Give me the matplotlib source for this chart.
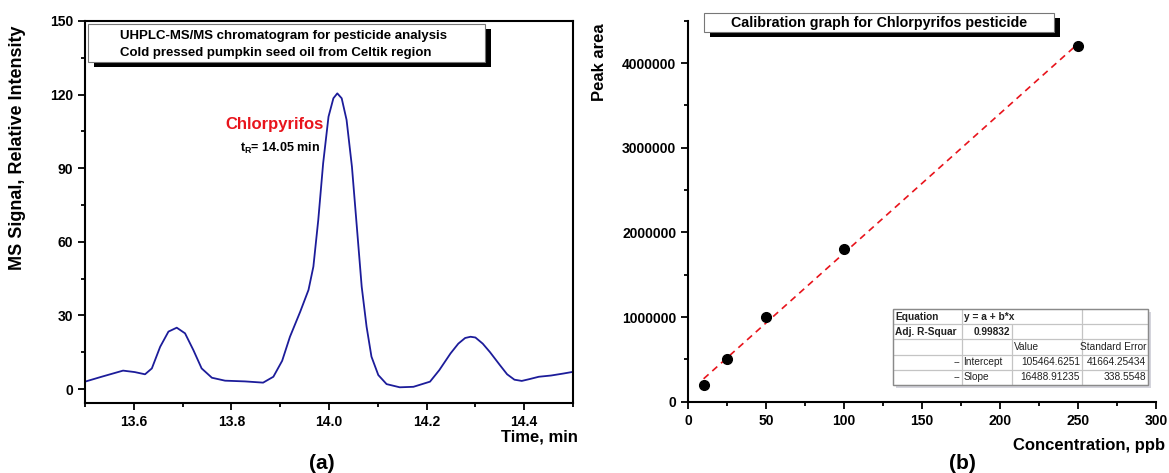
import numpy as np
import matplotlib
matplotlib.use("Agg")
import matplotlib.pyplot as plt
from matplotlib.patches import Rectangle
from matplotlib.ticker import MultipleLocator

plt.rcParams['font.family'] = ['Liberation Sans', 'DejaVu Sans']
plt.rcParams['mathtext.fontset'] = 'custom'
plt.rcParams['mathtext.rm'] = 'Liberation Sans'
plt.rcParams['mathtext.bf'] = 'Liberation Sans:bold'

# chromatogram (a)
time_min = [13.500, 13.534, 13.578, 13.602, 13.623, 13.637, 13.654, 13.671,
            13.688, 13.705, 13.722, 13.739, 13.760, 13.787, 13.828, 13.865,
            13.886, 13.904, 13.920, 13.941, 13.958, 13.968, 13.978, 13.988,
            13.999, 14.009, 14.017, 14.026, 14.036, 14.047, 14.057, 14.067,
            14.077, 14.087, 14.101, 14.118, 14.145, 14.173, 14.207, 14.226,
            14.249, 14.265, 14.279, 14.290, 14.300, 14.315, 14.330, 14.350,
            14.365, 14.380, 14.395, 14.410, 14.430, 14.455, 14.480, 14.500]
intensity = [3.0, 5.0, 7.5, 6.9, 6.0, 8.4, 17.2, 23.4,
             25.0, 22.7, 15.9, 8.4, 4.6, 3.4, 3.1, 2.6,
             5.0, 11.5, 21.3, 31.5, 40.4, 49.9, 68.9, 92.0,
             111.0, 118.5, 120.5, 118.5, 109.7, 90.6, 66.2, 41.7,
             25.4, 13.2, 5.7, 2.0, 0.7, 0.9, 3.0, 7.7,
             14.5, 18.5, 20.8, 21.3, 21.0, 18.5, 15.0, 9.8,
             6.0, 3.8, 3.3, 4.0, 5.0, 5.5, 6.3, 7.0]

# calibration (b)
conc_ppb = [10, 25, 50, 100, 250]
peak_area = [200000, 500000, 1000000, 1800000, 4200000]
intercept = 105464.6251
slope = 16488.91235

fit_rows = [
    ["Equation", "y = a + b*x", "", ""],
    ["Adj. R-Squar", "0.99832", "", ""],
    ["", "", "Value", "Standard Error"],
    ["--", "Intercept", "105464.6251", "41664.25434"],
    ["--", "Slope", "16488.91235", "338.5548"],
]

W, H = 1169, 473
fig = plt.figure(figsize=(W / 100, H / 100), dpi=100)


def box(x0, y0, x1, y1):
    # pixel box (top-left origin) -> figure fraction rect
    return [x0 / W, 1 - y1 / H, (x1 - x0) / W, (y1 - y0) / H]


def style(ax):
    for s in ax.spines.values():
        s.set_linewidth(1.5)
    ax.tick_params(which='both', direction='out', width=1.3)
    ax.tick_params(which='major', length=5, labelsize=10)
    ax.tick_params(which='minor', length=3)
    for lab in ax.get_xticklabels() + ax.get_yticklabels():
        lab.set_fontweight('bold')


# ---- (a)
ax1 = fig.add_axes(box(85, 21, 573, 403))
ax1.plot(time_min, intensity, color='#1c1c9a', lw=1.3)
ax1.set_xlim(13.5, 14.5)
ax1.set_ylim(-5.7, 150)
ax1.xaxis.set_minor_locator(MultipleLocator(0.1))
ax1.yaxis.set_major_locator(MultipleLocator(30))
ax1.yaxis.set_minor_locator(MultipleLocator(15))
ax1.set_xticks([13.6, 13.8, 14.0, 14.2, 14.4])
ax1.set_xticklabels(['13.6', '13.8', '14.0', '14.2', '14.4'])
style(ax1)
ax1.text(13.889, 108, 'Chlorpyrifos', color='#e8141c', fontsize=12,
         fontweight='bold', ha='center', va='center')
ax1.text(13.90, 98, r'$\mathbf{t}_{\mathbf{R}}$= 14.05 min', fontsize=9,
         fontweight='bold', ha='center', va='center')

# ---- (b)
ax2 = fig.add_axes(box(688, 20.7, 1156, 401.7))
xfit = np.array([conc_ppb[0], conc_ppb[-1]])
ax2.plot(xfit, intercept + slope * xfit, color='#e8141c', lw=1.2,
         ls=(0, (4, 3)), zorder=2)
ax2.plot(conc_ppb, peak_area, 'o', color='black', ms=7, zorder=3)
ax2.set_xlim(0, 300)
ax2.set_ylim(0, 4500000)
ax2.xaxis.set_major_locator(MultipleLocator(50))
ax2.xaxis.set_minor_locator(MultipleLocator(25))
ax2.yaxis.set_minor_locator(MultipleLocator(500000))
ax2.set_yticks([0, 1000000, 2000000, 3000000, 4000000])
ax2.set_yticklabels(['0', '1000000', '2000000', '3000000', '4000000'])
ax2.spines['top'].set_visible(False)
ax2.spines['right'].set_visible(False)
style(ax2)

# fit table
tx0, ty0, tx1, ty1 = 893, 309, 1148, 385
tb = [(tx0 - 688) / 468, (401.7 - ty1) / 381,
      (tx1 - tx0) / 468, (ty1 - ty0) / 381]
ax2.add_patch(Rectangle((tb[0] + 3 / 468, tb[1] - 3 / 381), tb[2], tb[3],
                        transform=ax2.transAxes, facecolor='#d4d4dc',
                        edgecolor='none', zorder=4, clip_on=False))
ax2.add_patch(Rectangle((tb[0], tb[1]), tb[2], tb[3],
                        transform=ax2.transAxes, facecolor='white',
                        edgecolor='none', zorder=4.5, clip_on=False))
tbl = ax2.table(cellText=fit_rows, colWidths=[69, 50, 70, 66], bbox=tb,
                zorder=5)
tbl.auto_set_font_size(False)
for (r, c), cell in tbl.get_celld().items():
    cell.set_edgecolor('#c4c4c4')
    cell.set_linewidth(0.8)
    cell.set_facecolor('none')
    cell.PAD = 0.03
    t = cell.get_text()
    t.set_fontsize(7.3)
    t.set_color('#222222')
    if r < 2 and c < 2:
        t.set_fontweight('bold')
    if (c == 0 and r >= 3) or (r == 1 and c == 1) or (c >= 2 and r != 2) \
            or (r == 2 and c == 3):
        t.set_horizontalalignment('right')
    else:
        t.set_horizontalalignment('left')
tbl[0, 1].visible_edges = 'BTL'
tbl[0, 2].visible_edges = 'BTR'
ax2.add_patch(Rectangle((tb[0], tb[1]), tb[2], tb[3],
                        transform=ax2.transAxes, facecolor='none',
                        edgecolor='#8a8a8a', lw=1.0, zorder=6, clip_on=False))


# ---- title boxes with drop shadow
def title_box(x0, y0, x1, y1, lines, fs):
    fig.patches.append(Rectangle(box(x0 + 6, y0 + 5, x1 + 6, y1 + 5)[:2],
                                 (x1 - x0) / W, (y1 - y0) / H,
                                 transform=fig.transFigure, facecolor='black',
                                 edgecolor='none', zorder=5))
    fig.patches.append(Rectangle(box(x0, y0, x1, y1)[:2],
                                 (x1 - x0) / W, (y1 - y0) / H,
                                 transform=fig.transFigure, facecolor='white',
                                 edgecolor='#777777', lw=0.8, zorder=6))
    for tx, ty, s, ha in lines:
        fig.text(tx / W, 1 - ty / H, s, fontsize=fs, fontweight='bold',
                 ha=ha, va='center', zorder=7)


title_box(88, 24, 485, 62,
          [(120, 36, 'UHPLC-MS/MS chromatogram for pesticide analysis', 'left'),
           (120, 53, 'Cold pressed pumpkin seed oil from Celtik region', 'left')], 9.5)
title_box(704, 13, 1054, 32,
          [(879, 23, 'Calibration graph for Chlorpyrifos pesticide', 'center')], 10.3)

# ---- axis labels and panel letters
fig.text(18 / W, 1 - 148 / H, 'MS Signal, Relative Intensity', rotation=90,
         fontsize=13, fontweight='bold', ha='center', va='center')
fig.text(578 / W, 1 - 437 / H, 'Time, min', fontsize=12, fontweight='bold',
         ha='right', va='center')
fig.text(600 / W, 1 - 62 / H, 'Peak area', rotation=90,
         fontsize=12, fontweight='bold', ha='center', va='center')
fig.text(1165 / W, 1 - 445 / H, 'Concentration, ppb', fontsize=12,
         fontweight='bold', ha='right', va='center')
fig.text(322 / W, 1 - 463 / H, '(a)', fontsize=15, fontweight='bold',
         ha='center', va='center')
fig.text(962 / W, 1 - 463 / H, '(b)', fontsize=15, fontweight='bold',
         ha='center', va='center')

fig.savefig('out.png', dpi=100)
